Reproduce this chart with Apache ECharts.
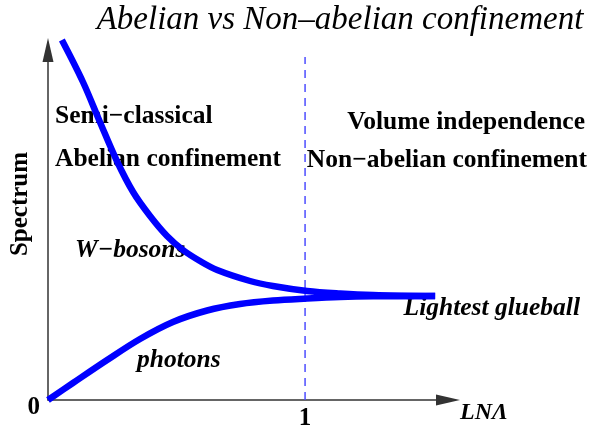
<!DOCTYPE html>
<html>
<head>
<meta charset="utf-8">
<script src="https://cdn.jsdelivr.net/npm/echarts@6/dist/echarts.min.js"></script>
<style>
  html, body { margin: 0; padding: 0; background: #fff; }
  #chart { width: 591px; height: 427px; }
</style>
</head>
<body>
<div id="chart"></div>
<script>
// curve samples: x in units of LN*Lambda, y arbitrary spectrum units
const wBosonX = [0.054, 0.136, 0.202, 0.268, 0.331, 0.397, 0.463, 0.525, 0.591, 0.658, 0.786, 0.875, 1.008, 1.136, 1.265, 1.506];
const wBosonY = [3.60, 3.18, 2.78, 2.39, 2.08, 1.84, 1.64, 1.50, 1.39, 1.30, 1.19, 1.14, 1.09, 1.065, 1.05, 1.04];
const photonX = [0, 0.097, 0.230, 0.358, 0.486, 0.619, 0.747, 0.875, 1.008, 1.136, 1.265, 1.506];
const photonY = [0, 0.17, 0.40, 0.61, 0.78, 0.895, 0.96, 0.995, 1.015, 1.03, 1.037, 1.04];
const dividerX = [1, 1];
const dividerY = [0, 3.43];
const xTicks = [1];
const yTicks = [0];

const zip = (xs, ys) => xs.map((x, i) => [x, ys[i]]);

const chart = echarts.init(document.getElementById('chart'));
const serif = 'Liberation Serif';
const axisColor = '#333';

// helper for free text
function label(text, x, y, opts) {
  return {
    type: 'text',
    x: x,
    y: y,
    style: Object.assign({
      text: text,
      fontFamily: serif,
      fontSize: 25.5,
      fontWeight: 'bold',
      fill: '#000',
      align: 'left',
      verticalAlign: 'middle'
    }, opts || {})
  };
}

chart.setOption({
  animation: false,
  backgroundColor: '#fff',
  grid: { left: 48, right: 143, top: 50, bottom: 27, outerBoundsMode: 'none' },
  xAxis: {
    type: 'value',
    min: 0,
    max: 1.556,
    splitLine: { show: false },
    axisTick: { show: false },
    axisLine: {
      lineStyle: { color: axisColor, width: 1.5 },
      symbol: ['none', 'triangle'],
      symbolSize: [11, 24]
    },
    axisLabel: {
      customValues: xTicks,
      margin: 6,
      color: '#000',
      fontFamily: serif,
      fontSize: 25,
      fontWeight: 'bold'
    }
  },
  yAxis: {
    type: 'value',
    min: 0,
    max: 3.5,
    splitLine: { show: false },
    axisTick: { show: false },
    axisLine: {
      lineStyle: { color: axisColor, width: 1.5 },
      symbol: ['none', 'triangle'],
      symbolSize: [11, 24]
    },
    axisLabel: {
      customValues: yTicks,
      margin: 8,
      verticalAlign: 'top',
      lineHeight: 16,
      color: '#000',
      fontFamily: serif,
      fontSize: 25,
      fontWeight: 'bold'
    }
  },
  series: [
    {
      name: 'W-bosons',
      type: 'line',
      data: zip(wBosonX, wBosonY),
      smooth: 0.35,
      showSymbol: false,
      clip: false,
      lineStyle: { color: '#0000ff', width: 6.5 }
    },
    {
      name: 'photons',
      type: 'line',
      data: zip(photonX, photonY),
      smooth: 0.35,
      showSymbol: false,
      clip: false,
      lineStyle: { color: '#0000ff', width: 6.5 }
    },
    {
      name: 'divider',
      type: 'line',
      data: zip(dividerX, dividerY),
      showSymbol: false,
      lineStyle: { color: '#4d4dff', width: 1.5, type: [8, 6] },
      z: 1
    }
  ],
  graphic: [
    label('Abelian vs Non\u2013abelian confinement', 340, 20, {
      fontWeight: 'normal', fontStyle: 'italic', fontSize: 33, align: 'center'
    }),
    label('Semi\u2212classical', 55, 116),
    label('Abelian confinement', 55, 159),
    label('Volume independence', 585, 122, { align: 'right' }),
    label('Non\u2212abelian confinement', 587, 160, { align: 'right' }),
    label('W\u2212bosons', 75, 250, { fontStyle: 'italic' }),
    label('photons', 137, 360, { fontStyle: 'italic' }),
    label('Lightest glueball', 580, 308, { fontStyle: 'italic', align: 'right' }),
    label('LN\u039B', 460, 413, { fontStyle: 'italic', fontSize: 24 }),
    {
      type: 'text',
      x: 21,
      y: 204,
      rotation: Math.PI / 2,
      style: {
        text: 'Spectrum',
        fontFamily: serif,
        fontSize: 25,
        fontWeight: 'bold',
        fill: '#000',
        align: 'center',
        verticalAlign: 'middle'
      }
    }
  ]
});
</script>
</body>
</html>
